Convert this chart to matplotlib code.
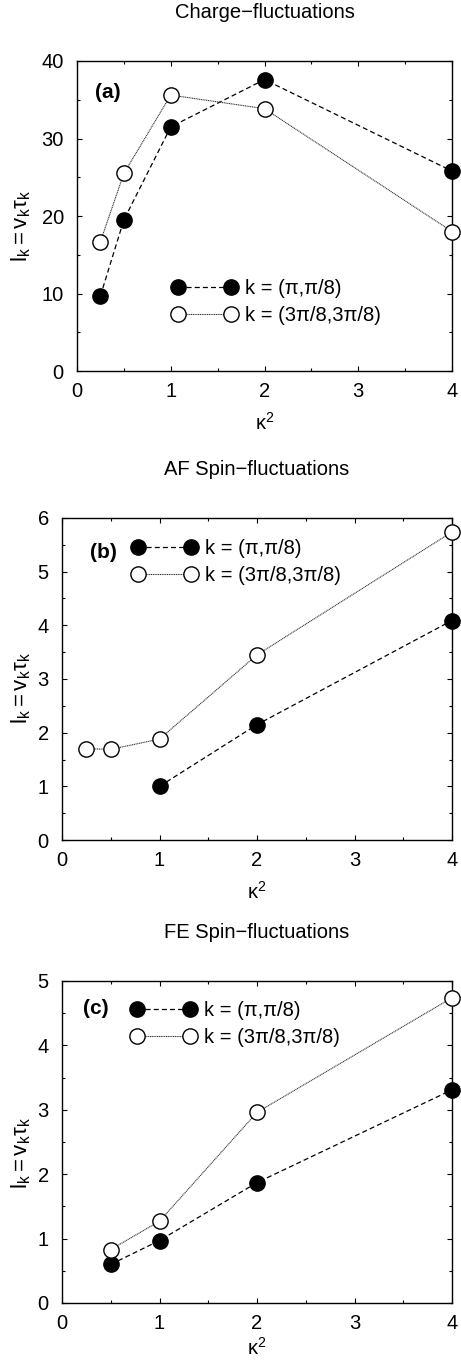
import matplotlib
matplotlib.use("Agg")
import matplotlib.pyplot as plt
from matplotlib.ticker import MultipleLocator

plt.rcParams['font.family'] = ['Liberation Sans', 'DejaVu Sans']
plt.rcParams['mathtext.fontset'] = 'custom'
plt.rcParams['mathtext.rm'] = 'Liberation Sans'
plt.rcParams['mathtext.it'] = 'Liberation Sans'

# ---- data ----
titles = ["Charge\u2212fluctuations", "AF Spin\u2212fluctuations", "FE Spin\u2212fluctuations"]
panel_labels = ["(a)", "(b)", "(c)"]
label_filled = "k = (\u03c0,\u03c0/8)"
label_open = "k = (3\u03c0/8,3\u03c0/8)"

a_x_filled = [0.25, 0.5, 1, 2, 4]
a_y_filled = [9.7, 19.5, 31.5, 37.6, 25.8]
a_x_open = [0.25, 0.5, 1, 2, 4]
a_y_open = [16.7, 25.5, 35.6, 33.85, 18.0]

b_x_filled = [1, 2, 4]
b_y_filled = [1.0, 2.15, 4.09]
b_x_open = [0.25, 0.5, 1, 2, 4]
b_y_open = [1.70, 1.69, 1.88, 3.45, 5.74]

c_x_filled = [0.5, 1, 2, 4]
c_y_filled = [0.60, 0.97, 1.87, 3.31]
c_x_open = [0.5, 1, 2, 4]
c_y_open = [0.83, 1.27, 2.96, 4.74]

x_ticks = [0, 1, 2, 3, 4]
ylims = [(0, 40), (0, 6), (0, 5)]
ymajor = [10, 1, 1]

W, H = 461, 1361
fig = plt.figure(figsize=(W / 100, H / 100), dpi=100)

# axes boxes in pixels (left, top, right, bottom)
boxes = [(77, 61, 452, 371), (62, 518, 452, 840), (62, 981, 452, 1303)]
label_pos = [(0.048, 0.90), (0.072, 0.894), (0.054, 0.916)]
legend_pos = [(0.253, 0.297), (0.18, 0.936), (0.177, 0.939)]
ylabel_pos = [(-0.117, 0.47), (-0.074, 0.472), (-0.074, 0.466)]
xlabel_pads = [8, 8, 2.5]

data = [
    (a_x_filled, a_y_filled, a_x_open, a_y_open),
    (b_x_filled, b_y_filled, b_x_open, b_y_open),
    (c_x_filled, c_y_filled, c_x_open, c_y_open),
]

for i in range(3):
    l, t, r, b = boxes[i]
    ax = fig.add_axes([l / W, 1 - b / H, (r - l) / W, (b - t) / H])
    xf, yf, xo, yo = data[i]
    ax.plot(xf, yf, linestyle=(0, (4, 2.5)), color='black', lw=0.9,
            marker='o', markersize=11, markerfacecolor='black',
            markeredgecolor='black', label=label_filled, clip_on=False, zorder=3)
    ax.plot(xo, yo, linestyle=(0, (1, 0.6)), color='#333333', lw=0.8,
            marker='o', markersize=11, markerfacecolor='white',
            markeredgecolor='black', markeredgewidth=1.0,
            label=label_open, clip_on=False, zorder=3)
    ax.set_xlim(0, 4)
    ax.set_ylim(*ylims[i])
    ax.set_xticks(x_ticks)
    ax.xaxis.set_minor_locator(MultipleLocator(0.5))
    ax.yaxis.set_major_locator(MultipleLocator(ymajor[i]))
    ax.yaxis.set_minor_locator(MultipleLocator(ymajor[i] / 2))
    ax.tick_params(which='both', direction='in', top=True, right=True,
                   labelsize=14.5, width=0.8)
    ax.tick_params(which='major', length=3.6)
    ax.tick_params(which='minor', length=2)
    ax.tick_params(axis='x', which='major', pad=8)
    ax.tick_params(axis='y', which='major', pad=9.5)
    for s in ax.spines.values():
        s.set_linewidth(1.0)
    ax.set_title(titles[i], fontsize=14.5, pad=31)
    ax.set_xlabel(r'$\mathregular{\kappa^2}$', fontsize=14.5, labelpad=xlabel_pads[i])
    ax.set_ylabel(r'$\mathregular{l_k = v_k\tau_k}$', fontsize=16)
    ax.yaxis.set_label_coords(*ylabel_pos[i])
    ax.text(label_pos[i][0], label_pos[i][1], panel_labels[i], transform=ax.transAxes,
            fontsize=15, fontweight='bold', va='center', ha='left')
    ax.legend(loc='upper left', bbox_to_anchor=legend_pos[i], frameon=False,
              numpoints=2, handlelength=3.23, handletextpad=0.4,
              borderpad=0, borderaxespad=0, labelspacing=0.4, fontsize=14.5)

fig.savefig("out.png", dpi=100)
